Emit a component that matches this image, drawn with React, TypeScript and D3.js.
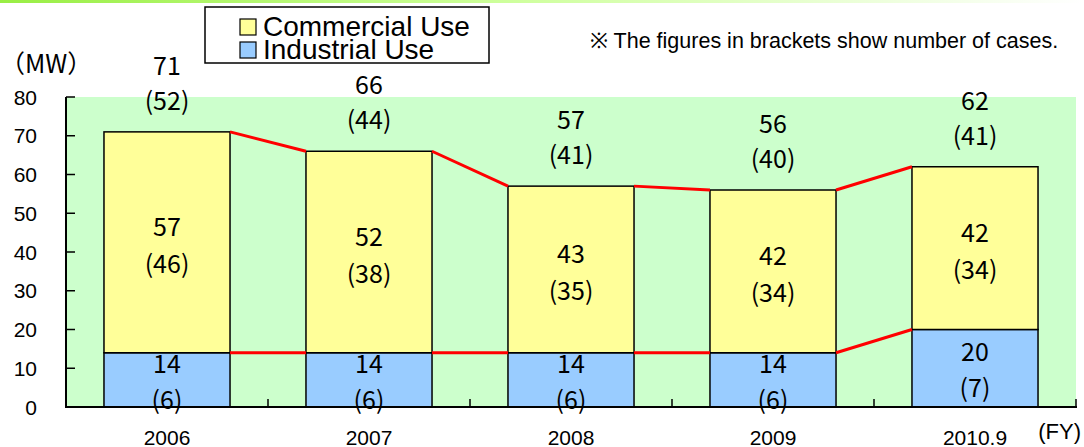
import React from "react";
import * as d3 from "d3";

const categories = ["2006", "2007", "2008", "2009", "2010.9"];
const industrial = [14, 14, 14, 14, 20];
const commercial = [57, 52, 43, 42, 42];
const totals = [71, 66, 57, 56, 62];
const industrialCases = [6, 6, 6, 6, 7];
const commercialCases = [46, 38, 35, 34, 34];
const totalCases = [52, 44, 41, 40, 41];
const yTicks = [0, 10, 20, 30, 40, 50, 60, 70, 80];

const W = 1084;
const H = 447;
const left = 66;
const right = 1076;
const top = 97;
const bottom = 407;

const labelFont = "'Noto Sans CJK JP', 'Noto Sans', sans-serif";
const axisFont = "'Liberation Sans', Arial, sans-serif";

export default function App() {
  const x = d3.scaleBand<string>().domain(categories).range([left, right]).paddingInner(0.376).paddingOuter(0.188);
  const y = d3.scaleLinear().domain([0, 80]).range([bottom, top]);
  const bw = x.bandwidth();
  const step = x.step();
  const boundaries = categories.map((_, i) => left + step * (i + 1));

  const lines: { x1: number; y1: number; x2: number; y2: number }[] = [];
  for (let i = 0; i < categories.length - 1; i++) {
    const xa = (x(categories[i]) as number) + bw;
    const xb = x(categories[i + 1]) as number;
    lines.push({ x1: xa, y1: y(totals[i]), x2: xb, y2: y(totals[i + 1]) });
    lines.push({ x1: xa, y1: y(industrial[i]), x2: xb, y2: y(industrial[i + 1]) });
  }

  const numStyle = { fontFamily: labelFont, fontSize: 25, fill: "#000" } as const;

  return (
    <svg width={W} height={H} style={{ position: "absolute", left: 0, top: 0, background: "#fff" }}>
      <defs>
        <linearGradient id="topband" x1="0" x2="1" y1="0" y2="0">
          <stop offset="0" stopColor="#99ee44" />
          <stop offset="0.45" stopColor="#ccff99" />
          <stop offset="1" stopColor="#ffffff" />
        </linearGradient>
      </defs>
      <rect x={0} y={0} width={W} height={3} fill="url(#topband)" />

      {/* plot background */}
      <rect x={left} y={top} width={right - left} height={bottom - top} fill="#CCFFCC" />

      {/* bars */}
      {categories.map((c, i) => {
        const bx = x(c) as number;
        return (
          <g key={c}>
            <rect x={bx} y={y(industrial[i])} width={bw} height={y(0) - y(industrial[i])} fill="#99CCFF" stroke="#000" strokeWidth={1.5} />
            <rect x={bx} y={y(totals[i])} width={bw} height={y(industrial[i]) - y(totals[i])} fill="#FFFF99" stroke="#000" strokeWidth={1.5} />
          </g>
        );
      })}

      {/* red connectors */}
      {lines.map((l, i) => (
        <line key={i} x1={l.x1} y1={l.y1} x2={l.x2} y2={l.y2} stroke="#FF0000" strokeWidth={3} />
      ))}

      {/* axes */}
      <line x1={left} y1={top} x2={left} y2={bottom} stroke="#000" strokeWidth={2} />
      <line x1={left - 1} y1={bottom} x2={right + 1} y2={bottom} stroke="#000" strokeWidth={2} />
      {yTicks.map((t) => (
        <g key={t}>
          <line x1={left} x2={left + 9} y1={y(t)} y2={y(t)} stroke="#000" strokeWidth={1.5} />
          <text x={37} y={y(t)} textAnchor="end" dominantBaseline="central" fontFamily={axisFont} fontSize={21}>
            {t}
          </text>
        </g>
      ))}
      {boundaries.map((b, i) => (
        <line key={i} x1={b} x2={b} y1={bottom} y2={bottom - 8} stroke="#000" strokeWidth={1.5} />
      ))}
      {categories.map((c) => (
        <text key={c} x={(x(c) as number) + bw / 2} y={437} textAnchor="middle" dominantBaseline="central" fontFamily={axisFont} fontSize={21}>
          {c}
        </text>
      ))}
      <text x={1081} y={431} textAnchor="end" dominantBaseline="central" fontFamily={axisFont} fontSize={22}>
        (FY)
      </text>
      <text x={0} y={62} dominantBaseline="central" fontFamily={labelFont} fontSize={25}>
        （MW）
      </text>

      {/* data labels */}
      {categories.map((c, i) => {
        const cx = (x(c) as number) + bw / 2;
        const tTop = y(totals[i]);
        const cMid = (y(totals[i]) + y(industrial[i])) / 2;
        const iMid = (y(industrial[i]) + y(0)) / 2;
        return (
          <g key={c} textAnchor="middle" dominantBaseline="central" style={numStyle}>
            <text x={cx} y={tTop - 68}>{totals[i]}</text>
            <text x={cx} y={tTop - 33}>({totalCases[i]})</text>
            <text x={cx} y={cMid - 17}>{commercial[i]}</text>
            <text x={cx} y={cMid + 20}>({commercialCases[i]})</text>
            <text x={cx} y={iMid - 18}>{industrial[i]}</text>
            <text x={cx} y={iMid + 18}>({industrialCases[i]})</text>
          </g>
        );
      })}

      {/* legend */}
      <rect x={205} y={7} width={284} height={56} fill="#fff" stroke="#000" strokeWidth={1.5} />
      <rect x={240} y={19} width={16} height={16} fill="#FFFF99" stroke="#000" strokeWidth={1.2} />
      <rect x={240} y={42} width={16} height={16} fill="#99CCFF" stroke="#000" strokeWidth={1.2} />
      <text x={263} y={36} fontFamily={axisFont} fontSize={28}>Commercial Use</text>
      <text x={263} y={59} fontFamily={axisFont} fontSize={28}>Industrial Use</text>

      {/* note */}
      <text x={590} y={48} fontFamily={axisFont} fontSize={21.5}>※ The figures in brackets show number of cases.</text>
    </svg>
  );
}
